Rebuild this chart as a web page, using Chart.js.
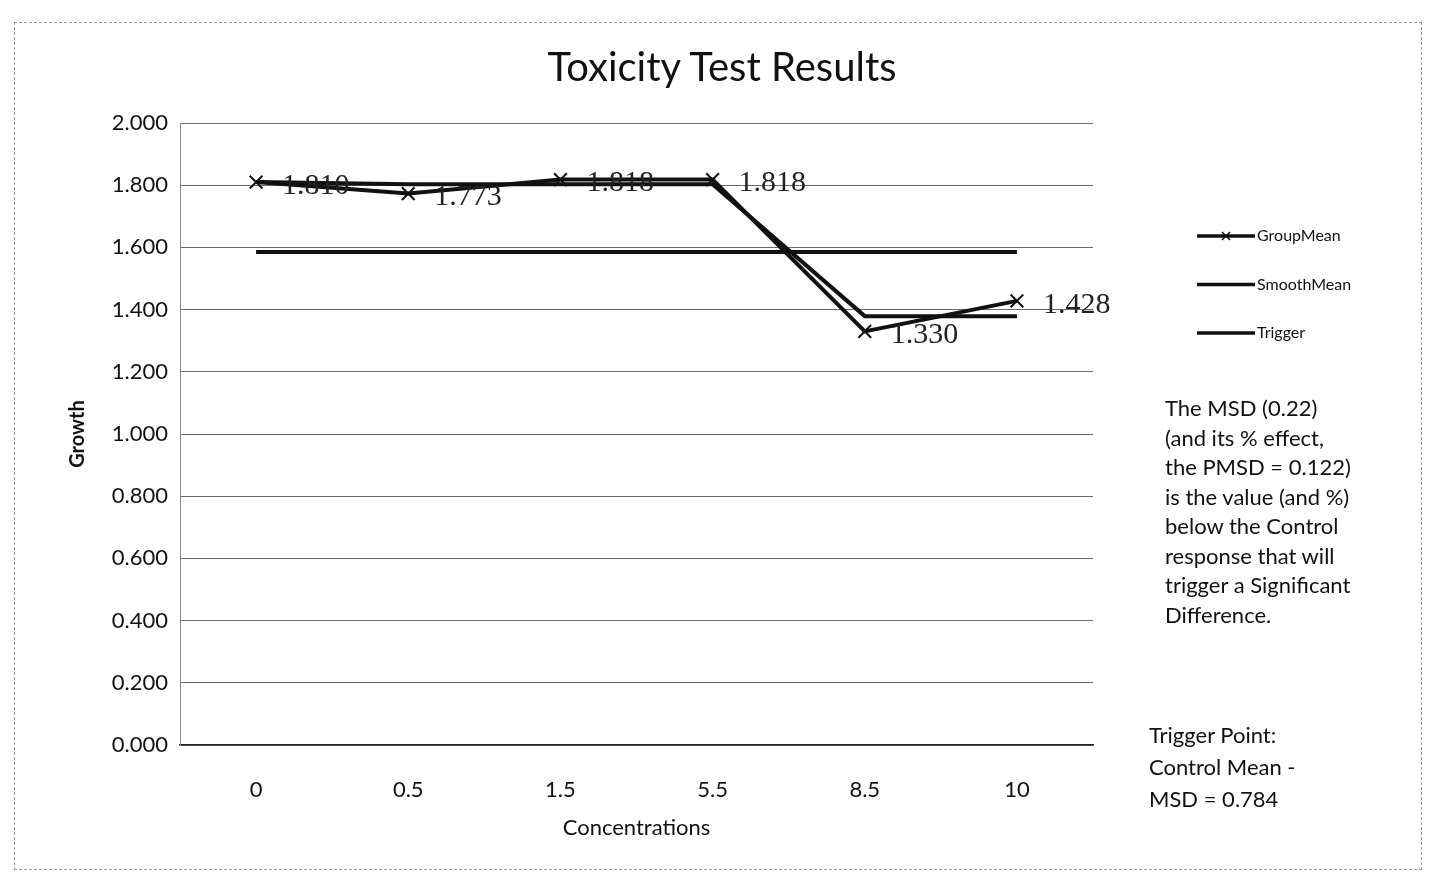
<!DOCTYPE html>
<html>
<head>
<meta charset="utf-8">
<script src="https://cdn.jsdelivr.net/npm/chart.js@4/dist/chart.umd.min.js"></script>
<style>
  body { margin: 0; background: #fff; }
  #wrap { position: relative; width: 1429px; height: 890px; }
  #frame { position: absolute; left: 14px; top: 22px; width: 1406px; height: 846px; border: 1px dashed #999; }
  #title { position: absolute; left: 0; width: 1444px; top: 42px; text-align: center; font-family: Lato, sans-serif; font-size: 40px; color: #111; }
  .note { position: absolute; font-family: Lato, "Open Sans", sans-serif; font-size: 22px; color: #111; }
  #msd { left: 1165px; top: 393px; line-height: 29.5px; }
  #trig { left: 1149px; top: 719px; line-height: 32px; }
</style>
</head>
<body>
<div id="wrap">
  <div id="frame"></div>
  <div id="title">Toxicity Test Results</div>
  <canvas id="tox" width="1429" height="890"></canvas>
  <div class="note" id="msd">The MSD (0.22)<br>(and its % effect,<br>the PMSD = 0.122)<br>is the value (and %)<br>below the Control<br>response that will<br>trigger a Significant<br>Difference.</div>
  <div class="note" id="trig">Trigger Point:<br>Control Mean -<br>MSD = 0.784</div>
</div>
<script>
const concentrations = ['0', '0.5', '1.5', '5.5', '8.5', '10'];
const groupMean = [1.810, 1.773, 1.818, 1.818, 1.330, 1.428];
const smoothMean = [1.810, 1.803, 1.803, 1.803, 1.379, 1.379];
const trigger = [1.585, 1.585, 1.585, 1.585, 1.585, 1.585];

// value labels next to the GroupMean points
const pointLabels = {
    id: 'pointLabels',
    afterDatasetsDraw(chart) {
        const ctx = chart.ctx;
        const meta = chart.getDatasetMeta(0);
        ctx.save();
        ctx.font = '30px "Liberation Serif", serif';
        ctx.fillStyle = '#222';
        ctx.textBaseline = 'middle';
        meta.data.forEach((pt, i) => {
            ctx.fillText(groupMean[i].toFixed(3), pt.x + 26, pt.y + 4);
        });
        ctx.restore();
    }
};

// legend at the right, one row per dataset
const sideLegend = {
    id: 'sideLegend',
    afterDraw(chart) {
        const ctx = chart.ctx;
        ctx.save();
        ctx.font = '16px Lato, "Open Sans", sans-serif';
        ctx.textBaseline = 'middle';
        chart.data.datasets.forEach((ds, i) => {
            const y = 236 + i * 48.5;
            const x0 = 1197, x1 = 1255;
            ctx.strokeStyle = ds.borderColor;
            ctx.lineWidth = 3.5;
            ctx.beginPath();
            ctx.moveTo(x0, y);
            ctx.lineTo(x1, y);
            ctx.stroke();
            if (ds.pointStyle === 'crossRot') {
                ctx.lineWidth = 1.5;
                ctx.beginPath();
                ctx.moveTo(1222, y - 4); ctx.lineTo(1230, y + 4);
                ctx.moveTo(1230, y - 4); ctx.lineTo(1222, y + 4);
                ctx.stroke();
            }
            ctx.fillStyle = '#111';
            ctx.fillText(ds.label, x1 + 2, y);
        });
        ctx.restore();
    }
};

new Chart(document.getElementById('tox'), {
    type: 'line',
    data: {
        labels: concentrations,
        datasets: [
            {
                label: 'GroupMean',
                data: groupMean,
                borderColor: '#111',
                borderWidth: 4,
                pointStyle: 'crossRot',
                pointRadius: 9,
                pointBorderWidth: 2,
                pointBorderColor: '#111',
                tension: 0
            },
            {
                label: 'SmoothMean',
                data: smoothMean,
                borderColor: '#111',
                borderWidth: 4,
                pointRadius: 0,
                tension: 0
            },
            {
                label: 'Trigger',
                data: trigger,
                borderColor: '#111',
                borderWidth: 4,
                pointRadius: 0,
                tension: 0
            }
        ]
    },
    options: {
        responsive: false,
        animation: false,
        layout: { padding: { left: 0, right: 336, top: 123, bottom: 0 } },
        plugins: {
            legend: { display: false },
            tooltip: { enabled: false },
            title: { display: false }
        },
        scales: {
            x: {
                offset: true,
                grid: { display: false },
                border: { display: true, color: '#222', width: 1.5 },
                ticks: { color: '#111', padding: 24, font: { family: 'Lato', size: 22 } },
                title: {
                    display: true,
                    text: 'Concentrations',
                    color: '#111',
                    font: { family: 'Lato', size: 22, lineHeight: 1.2 },
                    padding: { top: 0, bottom: 49 }
                },
                afterFit(scale) { scale.height = 145; }
            },
            y: {
                min: 0,
                max: 2,
                grid: { color: '#6a6a6a', lineWidth: 1, drawTicks: false },
                border: { display: true, color: '#888', width: 1 },
                ticks: {
                    stepSize: 0.2,
                    color: '#111',
                    padding: 12,
                    font: { family: 'Lato', size: 22 },
                    callback: v => v.toFixed(3)
                },
                title: {
                    display: true,
                    text: 'Growth',
                    color: '#111',
                    font: { family: 'Lato', size: 20, weight: 'bold', lineHeight: 1.2 },
                    padding: { top: 66, bottom: 0 }
                },
                afterFit(scale) { scale.width = 180; }
            }
        }
    },
    plugins: [pointLabels, sideLegend]
});
</script>
</body>
</html>
